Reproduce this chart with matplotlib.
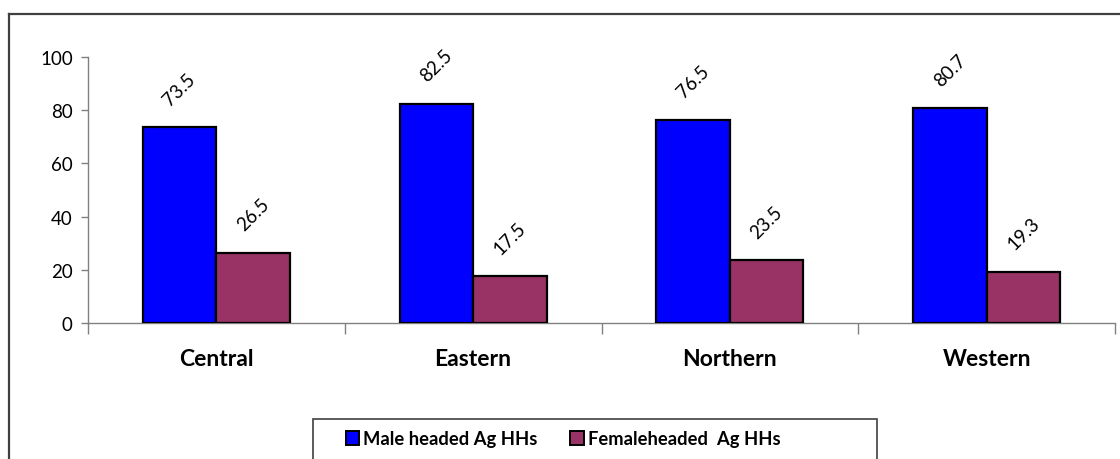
import matplotlib
matplotlib.use("Agg")
import matplotlib.pyplot as plt
from matplotlib.patches import Rectangle, Patch
import numpy as np

regions = ["Central", "Eastern", "Northern", "Western"]
male_headed = [73.5, 82.5, 76.5, 80.7]
female_headed = [26.5, 17.5, 23.5, 19.3]
series_labels = ["Male headed Ag HHs", "Femaleheaded  Ag HHs"]
y_ticks = [0, 20, 40, 60, 80, 100]

plt.rcParams["font.family"] = ["Lato", "DejaVu Sans"]

W, H = 1120, 460
fig = plt.figure(figsize=(W / 100, H / 100), dpi=100)
fig.patch.set_facecolor("white")

# outer chart frame (open at the bottom)
frame_col = "#404040"
fig.add_artist(plt.Line2D([9 / W, 9 / W], [0, 1 - 14.5 / H], transform=fig.transFigure,
                          color=frame_col, lw=1.6))
fig.add_artist(plt.Line2D([9 / W, 1.0], [1 - 14.5 / H, 1 - 14.5 / H], transform=fig.transFigure,
                          color=frame_col, lw=1.6))

ax = fig.add_axes([88 / W, 1 - 324 / H, (1115 - 88) / W, (324 - 58) / H])
x = np.arange(len(regions))
bw = 0.286
blue, maroon = "#0000FF", "#993366"
b1 = ax.bar(x - bw / 2, male_headed, bw, color=blue, edgecolor="black", linewidth=1.6, zorder=3)
b2 = ax.bar(x + bw / 2, female_headed, bw, color=maroon, edgecolor="black", linewidth=1.6, zorder=3)

for bars, vals in ((b1, male_headed), (b2, female_headed)):
    for bar, v in zip(bars, vals):
        ax.annotate(f"{v:.1f}", (bar.get_x() + bar.get_width() / 2, v),
                    xytext=(0, 27.5), textcoords="offset points",
                    ha="center", va="center", rotation=45, fontsize=13.5, color="black")

ax.set_xlim(-0.5, len(regions) - 0.5)
ax.set_ylim(0, 100)
ax.set_yticks(y_ticks)
ax.tick_params(axis="y", direction="out", length=5, width=1, color="#808080",
               labelsize=13.5, pad=6)
ax.set_xticks(np.arange(-0.5, len(regions)), labels=[""] * (len(regions) + 1))
ax.tick_params(axis="x", which="major", direction="out", length=8, width=1, color="#808080")
ax.set_xticks(x, labels=regions, minor=True)
ax.tick_params(axis="x", which="minor", length=0, pad=18, labelsize=16.5)
for lab in ax.get_xticklabels(minor=True):
    lab.set_fontweight("bold")

for s in ("top", "right"):
    ax.spines[s].set_visible(False)
for s in ("left", "bottom"):
    ax.spines[s].set_color("#808080")
    ax.spines[s].set_linewidth(1)

# legend box, running off the bottom edge
fig.add_artist(Rectangle((313 / W, -0.05), (877 - 313) / W, 0.05 + (460 - 420) / H,
                         transform=fig.transFigure, facecolor="white",
                         edgecolor=frame_col, lw=1.2, clip_on=False))
handles = [Patch(facecolor=blue, edgecolor="black", lw=1.4),
           Patch(facecolor=maroon, edgecolor="black", lw=1.4)]
leg = fig.legend(handles, series_labels, loc="center", bbox_to_anchor=(563 / W, 1 - 440 / H),
                 ncol=2, frameon=False, handlelength=0.75, handleheight=0.75,
                 handletextpad=0.2, columnspacing=1.8,
                 prop={"size": 13.2, "weight": "bold"})

fig.savefig("out.png", dpi=100, facecolor="white")
